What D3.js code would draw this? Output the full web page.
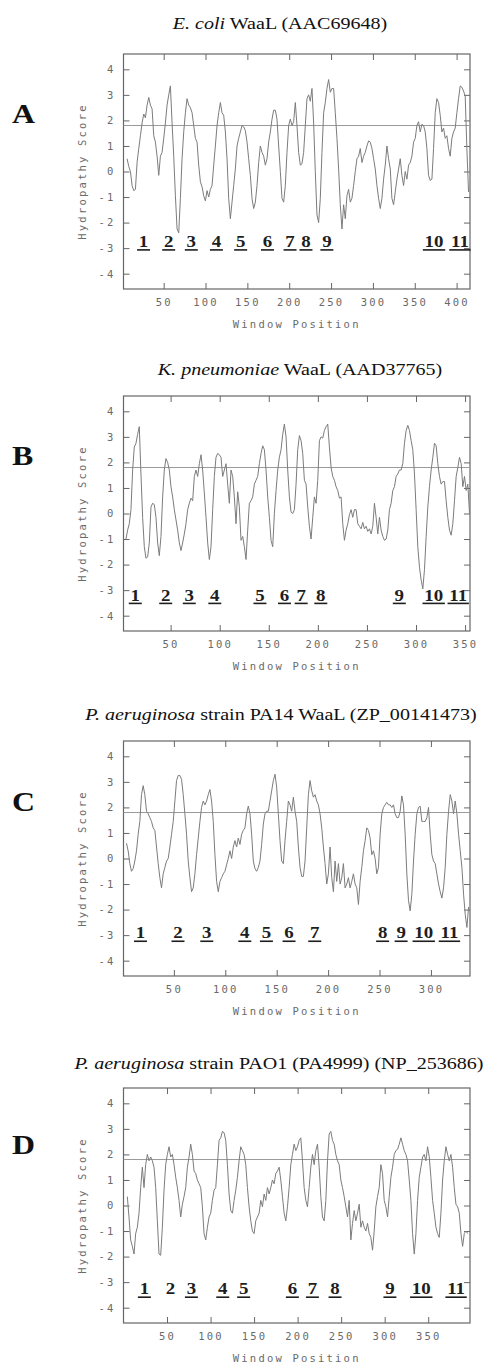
<!DOCTYPE html>
<html>
<head>
<meta charset="utf-8">
<script src="https://cdn.jsdelivr.net/npm/d3@7"></script>
<style>
  body { margin: 0; background: #fff; }
  .tick text { font-family: "DejaVu Sans Mono", monospace; font-size: 10.5px; letter-spacing: 2.2px; fill: #6a6a6a; }
  .tick line { stroke: #666; }
</style>
</head>
<body>
<div id="display"></div>
<script>
// hydropathy profiles (window position = start + i * step)
var aValues = [0.5, 0.2, 0, -0.55, -0.75, -0.7, 0.36, 0.9, 1.4, 1.9,
  2.25, 2.1, 2.6, 2.9, 2.6, 2.45, 1.4, 1.15, 0.6, -0.15,
  0.6, 0.75, 1.3, 1.9, 2.6, 3.0, 3.35, 1.9, 0.6, -0.95,
  -2.25, -2.4, -1.05, 0.5, 1.55, 2.3, 2.85, 2.6, 2.5, 2.3,
  1.8, 1.3, 1.15, 0.25, -0.4, -0.6, -0.95, -1.15, -0.75, -1.0,
  -0.7, -0.55, 0.25, 1.0, 1.8, 2.3, 2.7, 2.3, 2.2, 1.55,
  0.5, -1.05, -1.85, -1.2, -0.55, 0.1, 1.0, 1.3, 1.55, 1.8,
  1.75, 1.6, 1.15, 0.5, -0.15, -1.05, -1.45, -1.2, -0.55, 0.35,
  1.0, 0.75, 0.6, 0.25, 0.5, 1.15, 1.55, 2.05, 2.4, 2.4,
  2.05, 1.0, 0, -1.05, -1.2, -0.55, 0.75, 1.8, 2.05, 1.8,
  1.95, 2.7, 1.8, 0.75, 0.25, 0.3, 0.75, 1.8, 2.85, 3.0,
  2.75, 3.25, 1.9, 0, -1.7, -2.0, -1.05, 0.75, 2.3, 2.7,
  3.25, 3.6, 3.1, 3.25, 3.25, 2.3, 1.3, 0.1, -1.3, -2.25,
  -1.3, -1.85, -0.95, -0.7, -1.2, -1.05, -0.55, 0, 0.5, 0.6,
  0.9, 0.35, 0.6, 0.75, 1.0, 1.2, 1.15, 0.9, 0.5, 0.1,
  -0.55, -1.05, -1.45, -1.05, -0.3, 0.25, 1.0, 0.5, 0.1, -1.05,
  -1.3, -0.8, -0.3, 0.1, 0.5, -0.15, -0.55, 0, -0.3, 0.25,
  0.35, 0.6, 1.15, 1.3, 1.8, 1.95, 1.55, 1.85, 1.8, 1.55,
  0.9, -0.15, -0.35, -0.3, 0.9, 2.3, 2.85, 2.7, 2.2, 1.55,
  1.7, 1.3, 1.4, 0.9, 0.6, 1.3, 1.55, 1.7, 2.3, 2.85,
  3.35, 3.3, 3.15, 2.95, 0.9, -0.8];
var aStart = 6.3, aStep = 1.99;

var bValues = [-1.0, -0.65, -0.4, 0.15, 1.7, 2.6, 2.75, 3.1, 3.4, 1.55,
  -0.15, -1.3, -1.75, -1.7, -1.15, 0.25, 0.4, 0.35, -0.15, -1.15,
  -1.65, -0.9, 0.65, 1.7, 2.15, 2.0, 1.7, 1.05, 0.65, 0.15,
  -0.25, -0.65, -1.15, -1.45, -1.15, -0.8, -0.4, 0.15, 0.4, 0.6,
  0.5, 1.45, 1.7, 1.45, 1.95, 2.3, 1.7, 0.8, -0.15, -1.15,
  -1.8, -1.3, 0.15, 1.45, 2.2, 2.35, 2.3, 2.2, 1.45, 1.7,
  1.95, 1.15, 0.4, 1.7, 1.45, 0.65, -0.4, 0.85, 0.25, -1.05,
  -0.9, -1.3, -1.8, -0.65, 0.4, 0.5, 0.65, 1.15, 1.3, 1.45,
  1.95, 2.35, 2.65, 2.5, 1.7, 0.65, -0.15, -1.05, -1.3, 0,
  0.9, 1.7, 2.2, 2.5, 3.1, 3.5, 3.0, 1.7, 0.65, 0.05,
  0, 0.15, 1.15, 2.5, 3.05, 2.85, 2.35, 1.3, 1.15, 0.25,
  -0.5, -1.0, -0.15, 0.65, 0.4, 1.3, 2.85, 3.0, 2.95, 3.25,
  3.4, 3.5, 2.6, 1.8, 1.45, 1.3, 1.05, 0.9, 0.6, 0.65,
  -0.4, -1.05, -0.65, -0.4, -0.05, 0.15, -0.15, 0.15, 0.15, -0.4,
  -0.5, -0.6, -0.35, -0.6, -0.5, -0.7, -0.6, -0.8, -0.5, 0.4,
  -0.15, -0.8, -0.15, -0.65, -0.9, -1.05, -1.0, -0.65, 0.15, 0.4,
  0.9, 1.05, 1.45, 1.55, 1.7, 1.7, 1.95, 2.75, 3.25, 3.45,
  3.25, 2.85, 2.5, 1.55, 0.15, -1.3, -2.1, -2.6, -2.95, -2.2,
  -0.9, 0.25, 1.05, 1.7, 2.2, 2.75, 2.65, 1.95, 1.45, 1.15,
  1.25, 1.25, 0.5, -0.15, -0.65, -0.85, -0.4, 0.5, 1.45, 1.8,
  2.2, 1.95, 1.05, 1.45, 0.9, 1.15, 0];
var bStart = 4.5, bStep = 1.699;

var cValues = [0.6, 0.3, -0.2, -0.5, -0.4, -0.1, 0.3, 0.95, 1.45, 2.5,
  2.85, 2.5, 1.85, 1.75, 1.6, 1.45, 1.2, 1.1, 0.45, -0.2,
  -0.75, -1.15, -0.6, -0.35, -0.1, 0, 0.45, 0.95, 1.45, 2.25,
  3.05, 3.25, 3.25, 3.1, 2.5, 1.75, 0.95, -0.1, -0.75, -1.3,
  -1.15, -0.6, 0.15, 0.8, 1.45, 2.0, 2.25, 2.1, 2.25, 2.5,
  2.7, 2.25, 1.45, 0.15, -0.9, -1.3, -0.9, -0.75, -0.6, -0.5,
  -0.25, 0, 0.3, 0, 0.45, 0.7, 0.45, 0.8, 0.55, 0.95,
  1.1, 1.2, 1.75, 2.05, 1.75, 0.95, -0.1, -0.4, -0.5, -0.35,
  -0.1, 0.55, 1.35, 1.75, 1.85, 1.85, 2.25, 2.65, 3.05, 3.3,
  2.8, 1.75, 0.7, -0.1, -0.2, 0.7, 1.45, 2.25, 2.1, 1.85,
  2.4, 1.85, 1.45, 0.45, -0.35, -0.7, -0.7, -0.1, 1.2, 2.5,
  3.05, 2.65, 2.4, 2.5, 2.25, 2.1, 1.75, 1.2, 0.45, -0.2,
  -1.0, -0.6, 0.45, -0.75, -1.3, -0.1, -0.9, -0.2, -1.0, -0.75,
  -0.2, -1.15, -1.0, -0.75, -1.15, -0.9, -0.6, -1.0, -1.15, -1.8,
  -0.9, -0.35, 0.3, 0.7, 1.2, 1.1, 0.8, 0.15, 0.3, 0,
  -0.6, -0.35, 0.95, 1.75, 2.0, 2.1, 2.2, 2.1, 2.1, 2.0,
  2.1, 1.75, 1.6, 1.6, 1.85, 2.45, 2.1, 0.95, -0.6, -1.65,
  -2.05, -1.4, -0.1, 0.95, 1.75, 2.0, 2.05, 1.45, 1.45, 1.45,
  1.6, 2.0, 0.95, 0.15, -0.1, -0.2, -0.6, -1.0, -1.3, -1.55,
  -1.15, -0.35, 0.95, 1.85, 2.5, 2.25, 1.75, 2.25, 1.75, 0.95,
  0.3, -0.35, -1.4, -2.2, -2.7, -1.9];
var cStart = 3.9, cStep = 1.623;

var dValues = [0.35, -0.45, -1.35, -1.6, -1.9, -1.1, -0.85, -0.3, 0.7, 1.5,
  0.7, 1.6, 2.0, 1.75, 1.9, 1.75, 1.5, 0.7, -0.6, -1.9,
  -1.95, -0.85, 0.6, 1.6, 2.0, 2.3, 1.9, 2.0, 1.6, 1.1,
  0.7, 0.2, -0.45, 0.05, 0.35, 0.7, 1.5, 1.9, 2.4, 2.0,
  1.35, 1.25, 1.0, 0.85, 0.7, -0.05, -1.1, -1.35, -0.85, -0.45,
  -0.3, 0.2, 0.6, 0.7, 1.6, 2.55, 2.65, 2.9, 2.85, 2.55,
  1.6, 0.45, -0.2, -0.3, 0.2, 0.6, 1.1, 1.75, 2.3, 2.15,
  2.0, 1.6, 0.7, -0.05, -0.6, -1.0, -1.1, -0.6, -0.45, -0.3,
  0.2, -0.05, 0.45, 0.2, 0.7, 0.45, 0.7, 1.0, 0.85, 1.25,
  1.35, 1.5, 1.0, 0.35, -0.3, -0.6, -0.05, 0.7, 1.6, 2.0,
  2.4, 2.15, 2.3, 2.55, 2.65, 1.75, 0.7, 0.2, -0.05, 0.7,
  1.5, 2.0, 1.6, 2.15, 2.4, 1.5, 0.35, -0.45, -0.6, 0.2,
  1.75, 2.8, 2.9, 2.55, 2.4, 2.0, 1.75, 1.6, 1.0, 0.7,
  0.35, -0.05, -0.45, 0.2, -1.35, -0.7, -0.2, -0.6, -0.3, 0.05,
  -0.85, -0.6, -0.85, -1.0, -0.7, -1.1, -1.25, -1.75, -1.0, -0.05,
  0.35, 0.7, 1.6, 1.25, 0.2, -0.05, -0.45, 0.35, 1.1, 1.5,
  2.0, 2.15, 2.2, 2.4, 2.65, 2.4, 2.15, 2.0, 1.75, 1.0,
  0.2, -1.1, -1.9, -1.1, 0.2, 1.1, 1.5, 1.9, 2.0, 1.75,
  2.3, 1.9, 1.1, 0.2, -0.3, -0.85, -1.1, -1.25, -0.3, 1.0,
  1.75, 2.3, 2.0, 1.75, 2.0, 1.5, 0.7, 0.05, -0.05, -0.3,
  -1.1, -1.6, -1.1, -1.0, -1.1];
var dStart = 4.4, dStep = 1.916;

// x extents and tick labels
var aDomain = [2, 416], bDomain = [2, 355], cDomain = [1, 338], dDomain = [0, 398];
var aTicks = [50, 100, 150, 200, 250, 300, 350, 400];
var bTicks = [50, 100, 150, 200, 250, 300, 350];
var cTicks = [50, 100, 150, 200, 250, 300];
var dTicks = [50, 100, 150, 200, 250, 300, 350];
var yTicks = [-4, -3, -2, -1, 0, 1, 2, 3, 4];
var threshold = 1.8;

// transmembrane segment labels
var tmLabels = ["1", "2", "3", "4", "5", "6", "7", "8", "9", "10", "11"];
var aTm = [26, 56, 83, 113, 142, 174, 201, 220, 245, 373, 404];
var bTm = [14, 45, 69, 95, 141, 166, 183, 203, 283, 318, 343];
var cTm = [17.5, 54, 82, 119, 140, 162, 187, 253, 271, 293, 318];
var dTm = [24, 54, 78, 114, 138, 194, 217, 243, 306, 342, 382];

var panels = [
  {letter: "A", italic: "E. coli", rest: " WaaL (AAC69648)", values: aValues, start: aStart, step: aStep,
   domain: aDomain, ticks: aTicks, tm: aTm, tmBase: -2.96, plain: [],
   top: 54, titleX: 280, titleDy: -25, letterY: 123},
  {letter: "B", italic: "K. pneumoniae", rest: " WaaL (AAD37765)", values: bValues, start: bStart, step: bStep,
   domain: bDomain, ticks: bTicks, tm: bTm, tmBase: -3.41, plain: [],
   top: 396, titleX: 300, titleDy: -21, letterY: 465},
  {letter: "C", italic: "P. aeruginosa", rest: " strain PA14 WaaL (ZP_00141473)", values: cValues, start: cStart, step: cStep,
   domain: cDomain, ticks: cTicks, tm: cTm, tmBase: -3.13, plain: [],
   top: 741, titleX: 281, titleDy: -21, letterY: 811},
  {letter: "D", italic: "P. aeruginosa", rest: " strain PAO1 (PA4999) (NP_253686)", values: dValues, start: dStart, step: dStep,
   domain: dDomain, ticks: dTicks, tm: dTm, tmBase: -3.48, plain: ["2"],
   top: 1088, titleX: 279, titleDy: -19, letterY: 1154}
];

var left = 123.5, right = 470, plotH = 235, stretch = 1.18;
var serif = "'Liberation Serif', 'Times New Roman', serif";
var mono = "'DejaVu Sans Mono', monospace";

var svg = d3.select("#display").append("svg")
    .attr("width", 491)
    .attr("height", 1363);

panels.forEach(function(p) {
  var g = svg.append("g").attr("transform", "translate(0," + p.top + ")");

  var x = d3.scaleLinear().domain(p.domain).range([left, right]);
  var y = d3.scaleLinear().domain([-4.6, 4.6]).range([plotH, 0]);

  var pts = p.values.map(function(v, i) { return {pos: p.start + i * p.step, v: v}; });

  // axes, ticks pointing inward
  g.append("g")
      .attr("transform", "translate(0," + plotH + ")")
      .call(d3.axisBottom(x).tickValues(p.ticks).tickSize(-6).tickPadding(10).tickFormat(function(d) { return String(d); }))
      .call(function(a) { a.select(".domain").remove(); });
  g.append("g")
      .call(d3.axisTop(x).tickValues(p.ticks).tickSize(-6).tickFormat(""))
      .call(function(a) { a.select(".domain").remove(); });
  g.append("g")
      .attr("transform", "translate(" + left + ",0)")
      .call(d3.axisLeft(y).tickValues(yTicks).tickSize(-6).tickPadding(8).tickFormat(function(d) { return String(d); }))
      .call(function(a) { a.select(".domain").remove(); });
  g.append("g")
      .attr("transform", "translate(" + right + ",0)")
      .call(d3.axisRight(y).tickValues(yTicks).tickSize(-6).tickFormat(""))
      .call(function(a) { a.select(".domain").remove(); });

  g.append("rect")
      .attr("x", left)
      .attr("y", 0)
      .attr("width", right - left)
      .attr("height", plotH)
      .attr("fill", "none")
      .attr("stroke", "#666")
      .attr("stroke-width", 1.2);

  g.append("line")
      .attr("x1", left)
      .attr("x2", right)
      .attr("y1", y(threshold))
      .attr("y2", y(threshold))
      .attr("stroke", "#9a9a9a")
      .attr("stroke-width", 1);

  g.append("path")
      .datum(pts)
      .attr("d", d3.line().x(function(d) { return x(d.pos); }).y(function(d) { return y(d.v); }))
      .attr("fill", "none")
      .attr("stroke", "#7c7c7c")
      .attr("stroke-width", 1);

  // axis titles
  g.append("text")
      .attr("x", (left + right) / 2)
      .attr("y", plotH + 39)
      .attr("text-anchor", "middle")
      .attr("font-family", mono)
      .attr("font-size", "10.5px")
      .attr("letter-spacing", "2.2px")
      .attr("fill", "#6a6a6a")
      .text("Window Position");

  g.append("text")
      .attr("transform", "translate(86," + (plotH / 2) + ") rotate(-90)")
      .attr("text-anchor", "middle")
      .attr("font-family", mono)
      .attr("font-size", "10.5px")
      .attr("letter-spacing", "2.2px")
      .attr("fill", "#6a6a6a")
      .text("Hydropathy Score");

  // transmembrane numbers, underlined
  var tm = g.append("g")
    .selectAll("g")
    .data(p.tm.map(function(pos, i) { return {pos: pos, label: tmLabels[i]}; }))
    .enter().append("g")
      .attr("transform", function(d) { return "translate(" + x(d.pos) + "," + y(p.tmBase) + ") scale(" + stretch + ",1)"; });

  tm.append("text")
      .attr("text-anchor", "middle")
      .attr("font-family", serif)
      .attr("font-weight", "bold")
      .attr("font-size", "16px")
      .attr("fill", "#1e1e1e")
      .text(function(d) { return d.label; });

  tm.filter(function(d) { return p.plain.indexOf(d.label) < 0; })
    .append("line")
      .attr("x1", function() { return -this.parentNode.querySelector("text").getComputedTextLength() / 2 - 1.5; })
      .attr("x2", function() { return this.parentNode.querySelector("text").getComputedTextLength() / 2 + 1.5; })
      .attr("y1", 2.8)
      .attr("y2", 2.8)
      .attr("stroke", "#1e1e1e")
      .attr("stroke-width", 1.6);

  // panel title
  var title = g.append("text")
      .attr("transform", "translate(" + p.titleX + "," + p.titleDy + ") scale(" + stretch + ",1)")
      .attr("text-anchor", "middle")
      .attr("font-family", serif)
      .attr("font-size", "17px")
      .attr("fill", "#111");
  title.append("tspan").attr("font-style", "italic").text(p.italic);
  title.append("tspan").text(p.rest);

  // panel letter
  svg.append("text")
      .attr("transform", "translate(12," + p.letterY + ") scale(" + stretch + ",1)")
      .attr("font-family", serif)
      .attr("font-weight", "bold")
      .attr("font-size", "27px")
      .attr("fill", "#111")
      .text(p.letter);
});
</script>
</body>
</html>
